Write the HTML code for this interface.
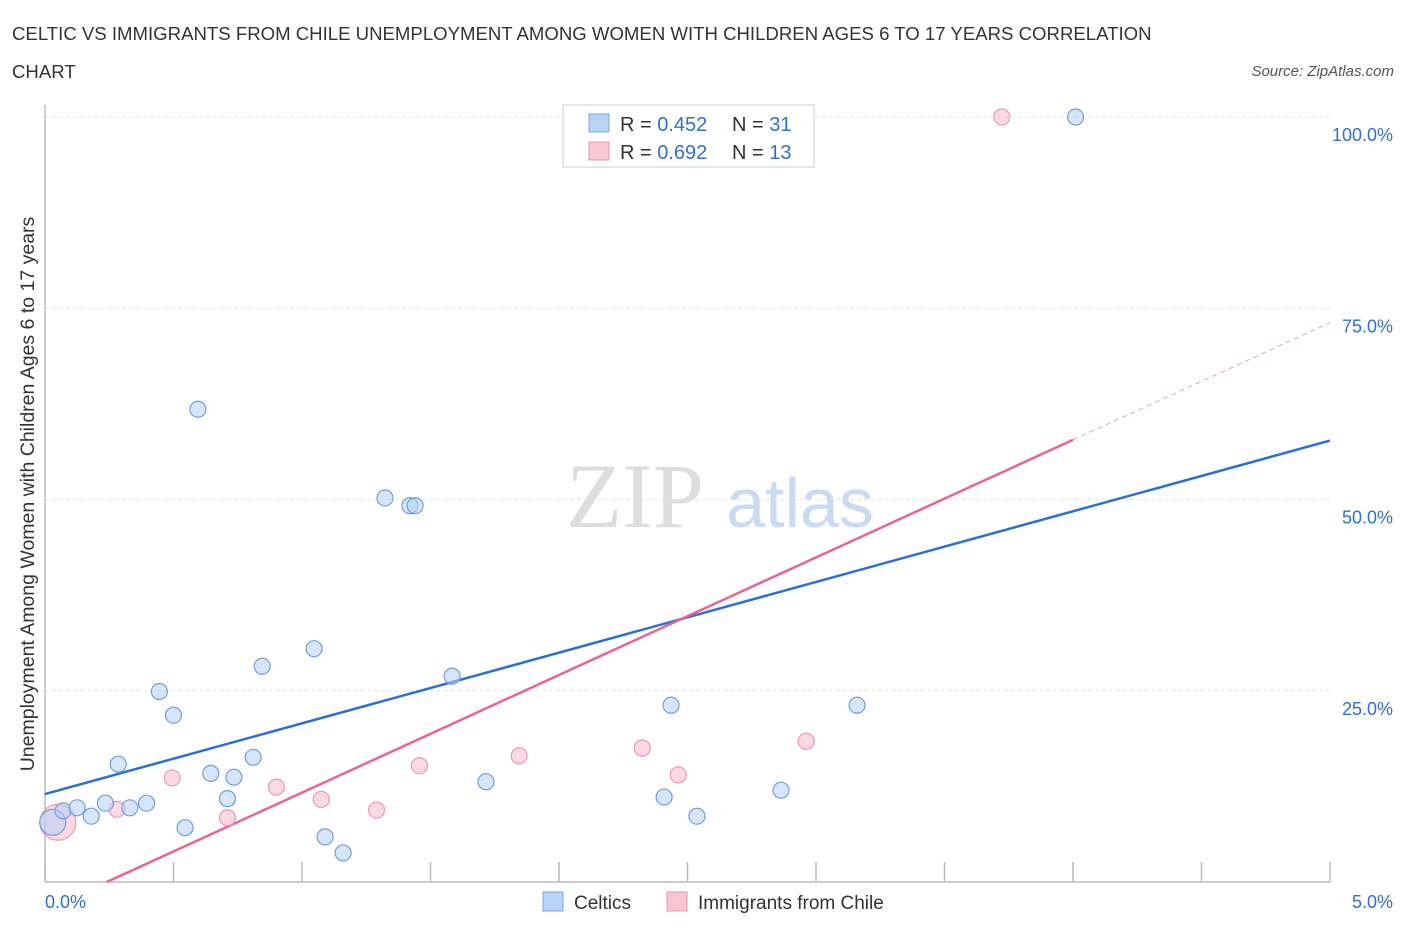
<!DOCTYPE html>
<html><head><meta charset="utf-8"><style>
body{margin:0;background:#fff;font-family:"Liberation Sans",sans-serif;}
</style></head><body>
<svg width="1406" height="930" xmlns="http://www.w3.org/2000/svg" style="font-family:'Liberation Sans',sans-serif">
<text x="12" y="40" font-size="18.6" fill="#333">CELTIC VS IMMIGRANTS FROM CHILE UNEMPLOYMENT AMONG WOMEN WITH CHILDREN AGES 6 TO 17 YEARS CORRELATION</text>
<text x="12" y="78" font-size="18.6" fill="#333">CHART</text>
<text x="1394" y="76" font-size="15" fill="#555" font-style="italic" text-anchor="end">Source: ZipAtlas.com</text>
<text x="635" y="527" font-size="92" fill="#ddd" style="font-family:'Liberation Serif',serif" text-anchor="middle">ZIP</text>
<text x="800" y="527" font-size="70" fill="#c9daf2" text-anchor="middle">atlas</text>
<g id="grid"></g>
<g id="axes"></g>
<text transform="translate(34,494) rotate(-90)" font-size="19.5" fill="#333" text-anchor="middle">Unemployment Among Women with Children Ages 6 to 17 years</text>
<g id="lines"></g>
<g id="pts"></g>
<g>
<rect x="563" y="105" width="251" height="62" fill="#fff" stroke="#ccc"/>
<rect x="589" y="114" width="20" height="18" fill="#b9d3f5" stroke="#7aa6e0"/>
<rect x="589" y="142" width="20" height="18" fill="#f8c6d4" stroke="#e897b0"/>
<text x="620" y="131" font-size="20" fill="#333">R = <tspan fill="#2f6fd6">0.452</tspan></text>
<text x="732" y="131" font-size="20" fill="#333">N = <tspan fill="#2f6fd6">31</tspan></text>
<text x="620" y="159" font-size="20" fill="#333">R = <tspan fill="#2f6fd6">0.692</tspan></text>
<text x="732" y="159" font-size="20" fill="#333">N = <tspan fill="#2f6fd6">13</tspan></text>
</g>
<g>
<rect x="543" y="892" width="20" height="19" fill="#b9d3f5" stroke="#7aa6e0"/>
<text x="574" y="909" font-size="19" fill="#333">Celtics</text>
<rect x="667" y="892" width="20" height="19" fill="#f8c6d4" stroke="#e897b0"/>
<text x="698" y="909" font-size="19" fill="#333">Immigrants from Chile</text>
</g>
<text x="45" y="908" font-size="18" fill="#2f6fd6">0.0%</text>
<text x="1393" y="908" font-size="18" fill="#2f6fd6" text-anchor="end">5.0%</text>
</svg>
<script>
const celticX=[0.03,0.07,0.125,0.18,0.235,0.285,0.33,0.395,0.445,0.5,0.545,0.595,0.645,0.71,0.735,0.81,0.845,1.047,1.09,1.16,1.323,1.42,1.44,1.584,1.716,2.409,2.436,2.537,2.864,3.16,4.01];
const celticY=[7.8,9.3,9.7,8.6,10.3,15.4,9.7,10.3,24.9,21.8,7.1,61.8,14.2,10.9,13.7,16.3,28.2,30.5,5.9,3.8,50.2,49.2,49.2,26.9,13.1,11.1,23.1,8.6,12.0,23.1,100];
const chileX=[0.05,0.28,0.495,0.71,0.9,1.075,1.29,1.457,1.845,2.324,2.464,2.962,3.723];
const chileY=[7.8,9.5,13.6,8.4,12.4,10.8,9.4,15.2,16.5,17.5,14.0,18.4,100];
const yTicks=[25,50,75,100];
const yTickLabels=["25.0%","50.0%","75.0%","100.0%"];
const xTicks=[0,0.5,1,1.5,2,2.5,3,3.5,4,4.5,5];
const celticLine=[0,11.5,5,57.7];
const chileLine=[0.24,0,4,57.8,5,73.1];
const NS="http://www.w3.org/2000/svg";
const sx=v=>45+v/5*1285, sy=v=>882-v*7.65;
function mk(tag,attrs,parent){const e=document.createElementNS(NS,tag);for(const k in attrs)e.setAttribute(k,attrs[k]);document.getElementById(parent).appendChild(e);return e;}
yTicks.forEach((t,i)=>{
 const g=mk('line',{x1:45,x2:1330,y1:sy(t),y2:sy(t),stroke:'#e3e3e3','stroke-dasharray':'4,3'},'grid');
 
 
 const tx=mk('text',{x:1393,y:sy(t)+24,'font-size':18,fill:'#2f6fd6','text-anchor':'end'},'grid');
 tx.textContent=yTickLabels[i];
 
 
});
const ax=mk('line',{x1:45,x2:1330,y1:882,y2:882,stroke:'#bbb','stroke-width':1.5},'axes');


const ay=mk('line',{x1:45,x2:45,y1:105,y2:882,stroke:'#bbb','stroke-width':1.5},'axes');


xTicks.forEach(t=>{
 const l=mk('line',{x1:sx(t),x2:sx(t),y1:862,y2:882,stroke:'#bbb','stroke-width':1.5},'axes');
 
 
});
const bl=mk('line',{x1:sx(celticLine[0]),y1:sy(celticLine[1]),x2:sx(celticLine[2]),y2:sy(celticLine[3]),stroke:'#2a6fd8','stroke-width':2.5},'lines');


const pl=mk('line',{x1:sx(chileLine[0]),y1:sy(chileLine[1]),x2:sx(chileLine[2]),y2:sy(chileLine[3]),stroke:'#e8658f','stroke-width':2.5},'lines');


const pd=mk('line',{x1:sx(chileLine[2]),y1:sy(chileLine[3]),x2:sx(chileLine[4]),y2:sy(chileLine[5]),stroke:'#e8a0b8','stroke-width':1,'stroke-dasharray':'5,4'},'lines');


chileX.forEach((x,i)=>{
 const c=mk('circle',{cx:sx(x),cy:sy(chileY[i]),r:i==0?18:8,fill:'rgba(246,180,200,0.5)',stroke:'#ec9ab4','stroke-width':1.2},'pts');
 
 
});
celticX.forEach((x,i)=>{
 const c=mk('circle',{cx:sx(x),cy:sy(celticY[i]),r:i==0?13:8,fill:'rgba(180,208,245,0.55)',stroke:'#6e9fe0','stroke-width':1.2},'pts');
 
 
});
</script>
</body></html>
